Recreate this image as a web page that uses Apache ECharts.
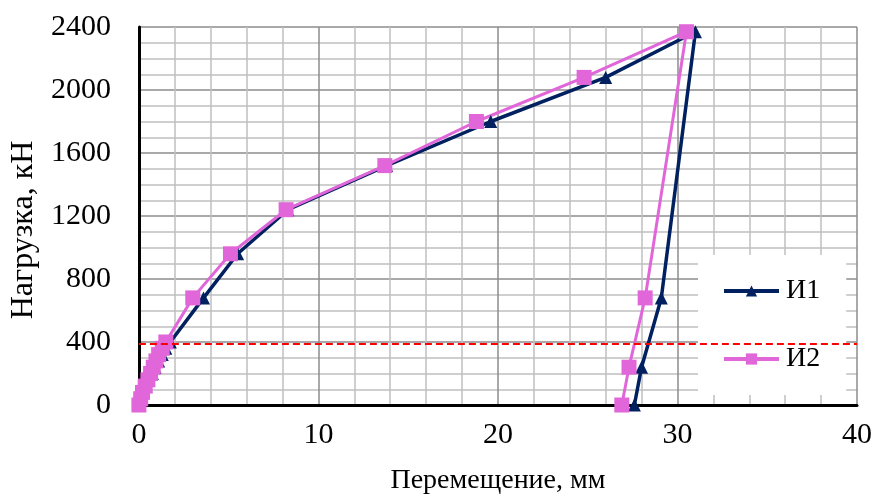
<!DOCTYPE html>
<html>
<head>
<meta charset="utf-8">
<script src="https://cdn.jsdelivr.net/npm/echarts@6/dist/echarts.min.js"></script>
<style>
  html, body { margin: 0; padding: 0; background: #fff; }
  #chartBox { width: 878px; height: 502px; }
</style>
</head>
<body>
<div id="chartBox"></div>
<script>
// displacement, mm / load, kN
const dispI1 = [0, 0.1, 0.25, 0.4, 0.55, 0.75, 0.9, 1.1, 1.3, 1.5, 1.75, 3.6, 5.5, 8.3, 13.8, 19.6, 26.0, 31.0, 29.1, 28.0, 27.6];
const loadI1 = [0, 40, 80, 120, 160, 200, 240, 280, 320, 360, 400, 680, 960, 1240, 1520, 1800, 2080, 2370, 680, 240, 0];
const dispI2 = [0, 0.1, 0.2, 0.35, 0.5, 0.65, 0.8, 0.95, 1.1, 1.3, 1.5, 3.0, 5.1, 8.2, 13.7, 18.8, 24.8, 30.5, 28.2, 27.3, 26.9];
const loadI2 = [0, 40, 80, 120, 160, 200, 240, 280, 320, 360, 400, 680, 960, 1240, 1520, 1800, 2080, 2370, 680, 240, 0];
const refLoad = 390;
const seriesNames = ['И1', 'И2'];

const font = 'Liberation Serif, Times New Roman, serif';
const pairs = (xs, ys) => xs.map((x, i) => [x, ys[i]]);

const chart = echarts.init(document.getElementById('chartBox'));

const option = {
  animation: false,
  backgroundColor: '#fff',
  textStyle: { fontFamily: font },
  grid: { left: 137, right: 21, top: 27, bottom: 97 },
  legend: {
    orient: 'vertical',
    left: 698,
    top: 255,
    padding: [22, 26, 22, 24],
    itemGap: 40,
    itemWidth: 55,
    itemHeight: 14,
    backgroundColor: '#fff',
    data: seriesNames,
    lineStyle: { width: 4 },
    textStyle: { fontFamily: font, fontSize: 28, color: '#000', padding: [0, 0, 0, 2] }
  },
  xAxis: {
    type: 'value',
    min: 0,
    max: 40,
    interval: 10,
    name: 'Перемещение, мм',
    nameLocation: 'middle',
    nameGap: 62,
    nameTextStyle: { fontFamily: font, fontSize: 28, color: '#000' },
    axisLine: { show: true, onZero: false, lineStyle: { color: '#000', width: 3 } },
    axisTick: { show: false },
    axisLabel: { fontFamily: font, fontSize: 30, color: '#000', margin: 15 },
    splitLine: { show: true, lineStyle: { color: '#8c8c8c', width: 1.5 } },
    minorTick: { show: false, splitNumber: 5 },
    minorSplitLine: { show: true, lineStyle: { color: '#c0c0c0', width: 1.5 } }
  },
  yAxis: {
    type: 'value',
    min: 0,
    max: 2400,
    interval: 400,
    name: 'Нагрузка, кН',
    nameLocation: 'middle',
    nameGap: 94,
    nameTextStyle: { fontFamily: font, fontSize: 32, color: '#000', padding: [0, 28, 0, 0] },
    axisLine: { show: true, onZero: false, lineStyle: { color: '#000', width: 3 } },
    axisTick: { show: false },
    axisLabel: { fontFamily: font, fontSize: 30, color: '#000', margin: 28, formatter: v => String(v) },
    splitLine: { show: true, lineStyle: { color: '#8c8c8c', width: 1.5 } },
    minorTick: { show: false, splitNumber: 4 },
    minorSplitLine: { show: true, lineStyle: { color: '#c0c0c0', width: 1.5 } }
  },
  series: [
    {
      name: seriesNames[0],
      type: 'line',
      data: pairs(dispI1, loadI1),
      symbol: 'triangle',
      symbolSize: 13,
      color: '#002060',
      lineStyle: { color: '#002060', width: 3.5 },
      itemStyle: { color: '#002060' },
      markLine: {
        silent: true,
        symbol: 'none',
        label: { show: false },
        lineStyle: { color: '#ff0000', type: [7, 4], width: 2 },
        data: [{ yAxis: refLoad }]
      }
    },
    {
      name: seriesNames[1],
      type: 'line',
      data: pairs(dispI2, loadI2),
      symbol: 'rect',
      symbolSize: 15,
      color: '#e066d9',
      lineStyle: { color: '#e066d9', width: 3 },
      itemStyle: { color: '#e066d9' }
    }
  ]
};

chart.setOption(option);
</script>
</body>
</html>
